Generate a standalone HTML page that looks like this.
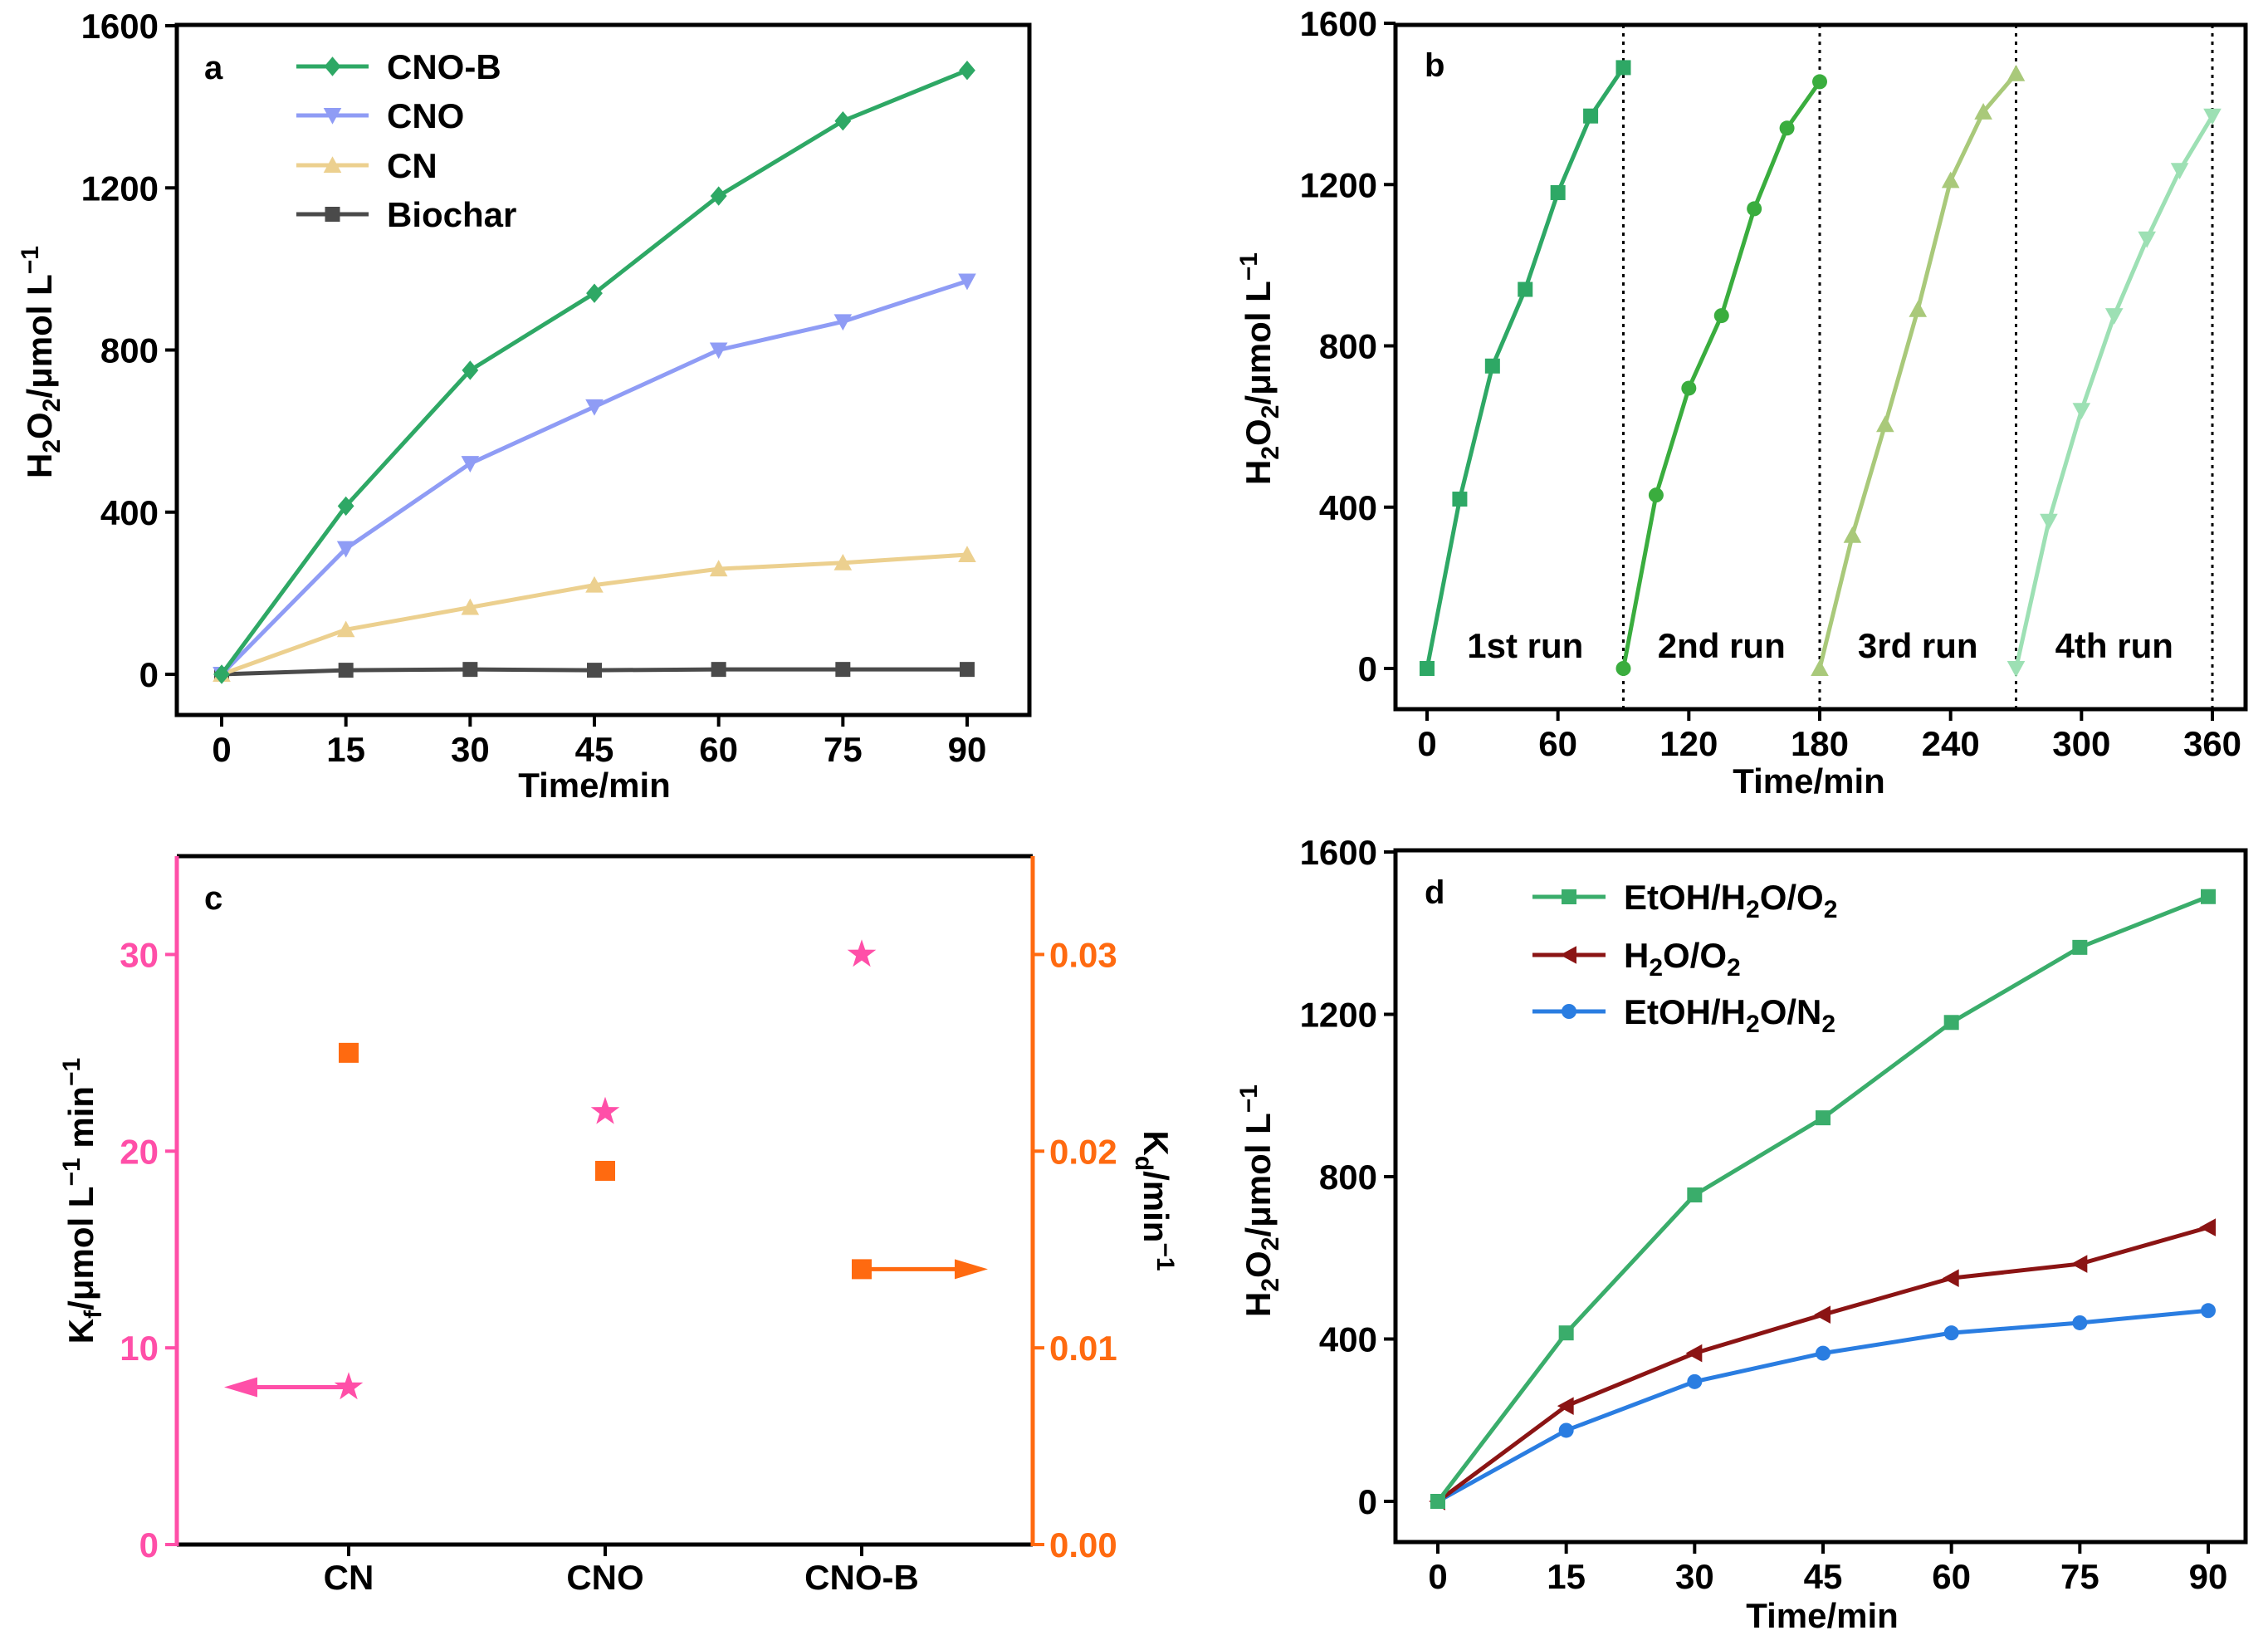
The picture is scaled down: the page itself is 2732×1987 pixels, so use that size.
<!DOCTYPE html>
<html><head><meta charset="utf-8"><style>
html,body{margin:0;padding:0;background:#fff}
svg text{font-family:"Liberation Sans",Arial,sans-serif;font-weight:bold}
</style></head><body>
<svg id="fig" width="2732" height="1982" viewBox="0 0 2732 1982" xmlns="http://www.w3.org/2000/svg"></svg>
<script>
// ---- data ----
const timeA = [0,15,30,45,60,75,90];
const cnoB = [0,415,750,940,1180,1365,1490];
const cno = [0,310,520,660,800,870,970];
const cn = [0,110,165,220,260,275,295];
const biochar = [0,10,12,10,12,12,12];
const yTicksH2O2 = [0,400,800,1200,1600];
const xTicksA = [0,15,30,45,60,75,90];

const run1 = [0,420,750,940,1180,1370,1490];
const run2 = [0,430,695,875,1140,1340,1455];
const run3 = [0,330,605,890,1210,1380,1475];
const run4 = [0,365,640,875,1065,1235,1370];
const runStarts = [0,90,180,270];
const runLabels = ["1st run","2nd run","3rd run","4th run"];
const xTicksB = [0,60,120,180,240,300,360];

const catsC = ["CN","CNO","CNO-B"];
const kf = [8,22,30];
const kd = [0.025,0.019,0.014];
const kfTicks = [0,10,20,30];
const kdTicks = ["0.00","0.01","0.02","0.03"];

const etohO2 = [0,415,755,945,1180,1365,1490];
const h2oO2 = [0,235,365,460,550,585,675];
const etohN2 = [0,175,295,365,415,440,470];

const NS="http://www.w3.org/2000/svg";
const svg=document.getElementById('fig');
function el(tag,attrs,parent,txt){const e=document.createElementNS(NS,tag);for(const k in attrs)e.setAttribute(k,attrs[k]);if(txt!==undefined)e.textContent=txt;(parent||svg).appendChild(e);return e;}
function lin(d0,d1,p0,p1){return v=>p0+(v-d0)*(p1-p0)/(d1-d0);}

function marker(g,type,x,y,c,s){
  s=s||9;
  if(type==='sq') return el('rect',{x:x-s,y:y-s,width:2*s,height:2*s,fill:c},g);
  if(type==='dia') return el('polygon',{points:`${x},${y-s*1.3} ${x+s*1.1},${y} ${x},${y+s*1.3} ${x-s*1.1},${y}`,fill:c},g);
  if(type==='tu') return el('polygon',{points:`${x},${y-s*1.2} ${x+s*1.2},${y+s} ${x-s*1.2},${y+s}`,fill:c},g);
  if(type==='td') return el('polygon',{points:`${x},${y+s*1.2} ${x+s*1.2},${y-s} ${x-s*1.2},${y-s}`,fill:c},g);
  if(type==='tl') return el('polygon',{points:`${x-s*1.2},${y} ${x+s},${y-s*1.2} ${x+s},${y+s*1.2}`,fill:c},g);
  if(type==='ci') return el('circle',{cx:x,cy:y,r:s,fill:c},g);
  if(type==='star'){let p=[];for(let i=0;i<10;i++){const r=i%2?s*0.55:s*1.4;const a=-Math.PI/2+i*Math.PI/5;p.push((x+r*Math.cos(a)).toFixed(1)+','+(y+r*Math.sin(a)).toFixed(1));}return el('polygon',{points:p.join(' '),fill:c},g);}
}
function frame(g,L,R,T,B){el('rect',{x:L,y:T,width:R-L,height:B-T,fill:'none',stroke:'#000','stroke-width':5},g);}
function yTitle(g,x,y,parts,name,rot){
  const t=el('text',{x:0,y:0,'font-size':42,'text-anchor':'middle',transform:`translate(${x},${y}) rotate(${rot||-90})`,},g);
  parts.forEach(p=>{const ts=el('tspan',p.sub?{'font-size':30,dy:10}:p.sup?{'font-size':30,dy:-16}:{dy:p.reset||0},t,p.t);});
  return t;
}
function series(g,xs,ys,sx,sy,color,mk,name){
  const sg=el('g',{},g);
  
  
  el('polyline',{points:xs.map((x,i)=>sx(x)+','+sy(ys[i])).join(' '),fill:'none',stroke:color,'stroke-width':5},sg);
  xs.forEach((x,i)=>marker(sg,mk,sx(x),sy(ys[i]),color));
}
function legendEntry(g,x1,x2,y,color,mk,label,name){
  const lg=el('g',{},g);
  
  
  el('line',{x1:x1,x2:x2,y1:y,y2:y,stroke:color,'stroke-width':5},lg);
  marker(lg,mk,(x1+x2)/2,y,color);
  const t=el('text',{x:x2+22,y:y+15,'font-size':42},lg);
  label.forEach(p=>el('tspan',p.sub?{'font-size':30,dy:10}:{dy:p.reset||0},t,p.t));
}
function xyAxes(g,L,R,T,B,sx,sy,xt,yt,xtitleX,xtitleY){
  frame(g,L,R,T,B);
  xt.forEach(v=>{el('line',{x1:sx(v),x2:sx(v),y1:B,y2:B+14,stroke:'#000','stroke-width':4},g);el('text',{x:sx(v),y:B+56,'font-size':42,'text-anchor':'middle'},g,v);});
  yt.forEach(v=>{el('line',{x1:L-14,x2:L,y1:sy(v),y2:sy(v),stroke:'#000','stroke-width':4},g);el('text',{x:L-22,y:sy(v)+15,'font-size':42,'text-anchor':'end'},g,v);});
  el('text',{x:xtitleX,y:xtitleY,'font-size':42,'text-anchor':'middle',},g,'Time/min');
}
const yParts=[{t:'H'},{t:'2',sub:1},{t:'O',reset:-10},{t:'2',sub:1},{t:'/μmol L',reset:-10},{t:'−1',sup:1}];

// ---- panel a ----
{
 const g=el('g',{});
 const L=213,R=1240,T=30,B=861;
 const sx=lin(0,90,267,1165), sy=lin(0,1600,812,31);
 xyAxes(g,L,R,T,B,sx,sy,xTicksA,yTicksH2O2,716,960);
 yTitle(g,62,436,yParts,'y-axis-title');
 el('text',{x:246,y:95,'font-size':40,},g,'a');
 series(g,timeA,biochar,sx,sy,'#4a4a4a','sq','series-biochar');
 series(g,timeA,cn,sx,sy,'#ecd08f','tu','series-cn');
 series(g,timeA,cno,sx,sy,'#8f9cf5','td','series-cno');
 series(g,timeA,cnoB,sx,sy,'#2ea865','dia','series-cno-b');
 legendEntry(g,357,444,80,'#2ea865','dia',[{t:'CNO-B'}],'legend-cno-b');
 legendEntry(g,357,444,139,'#8f9cf5','td',[{t:'CNO'}],'legend-cno');
 legendEntry(g,357,444,199,'#ecd08f','tu',[{t:'CN'}],'legend-cn');
 legendEntry(g,357,444,258,'#4a4a4a','sq',[{t:'Biochar'}],'legend-biochar');
}
// ---- panel b ----
{
 const g=el('g',{});
 const L=1681,R=2705,T=30,B=854;
 const sx=lin(0,360,1719,2665), sy=lin(0,1600,805,28);
 xyAxes(g,L,R,T,B,sx,sy,xTicksB,yTicksH2O2,2179,955);
 yTitle(g,1530,444,yParts,'y-axis-title');
 el('text',{x:1716,y:92,'font-size':40,},g,'b');
 runStarts.forEach(s=>{el('line',{x1:sx(s+90),x2:sx(s+90),y1:T,y2:B,stroke:'#000','stroke-width':3,'stroke-dasharray':'4,6'},g);});
 const runs=[run1,run2,run3,run4], cols=['#2ea865','#3aad3e','#a9c97a','#9de0b4'], mks=['sq','ci','tu','td'];
 runs.forEach((r,k)=>{series(g,timeA.map(t=>t+runStarts[k]),r,sx,sy,cols[k],mks[k],'series-run-'+(k+1));
   el('text',{x:sx(runStarts[k]+45),y:792,'font-size':42,'text-anchor':'middle'},g,runLabels[k]);});
}
// ---- panel c ----
{
 const g=el('g',{});
 const L=213,R=1244,T=1031,B=1860;
 const sy=lin(0,35,B,T), sy2=lin(0,0.035,B,T);
 const sx=i=>420+i*309;
 el('line',{x1:L,x2:R,y1:T,y2:T,stroke:'#000','stroke-width':5},g);
 el('line',{x1:L,x2:R,y1:B,y2:B,stroke:'#000','stroke-width':5},g);
 el('line',{x1:L,x2:L,y1:T,y2:B+2,stroke:'#ff4fa8','stroke-width':5},g);
 el('line',{x1:R,x2:R,y1:T,y2:B+2,stroke:'#ff6a10','stroke-width':5},g);
 kfTicks.forEach(v=>{el('line',{x1:L-14,x2:L,y1:sy(v),y2:sy(v),stroke:'#ff4fa8','stroke-width':4},g);el('text',{x:L-22,y:sy(v)+15,'font-size':42,'text-anchor':'end',fill:'#ff4fa8'},g,v);});
 kdTicks.forEach(v=>{const yy=sy2(parseFloat(v));el('line',{x1:R,x2:R+14,y1:yy,y2:yy,stroke:'#ff6a10','stroke-width':4},g);el('text',{x:R+20,y:yy+15,'font-size':42,fill:'#ff6a10'},g,v);});
 catsC.forEach((c,i)=>{el('line',{x1:sx(i),x2:sx(i),y1:B,y2:B+14,stroke:'#000','stroke-width':4},g);el('text',{x:sx(i),y:1914,'font-size':42,'text-anchor':'middle'},g,c);});
 el('text',{x:246,y:1095,'font-size':40,},g,'c');
 yTitle(g,112,1446,[{t:'K'},{t:'f',sub:1},{t:'/μmol L',reset:-10},{t:'−1',sup:1},{t:' min',reset:16},{t:'−1',sup:1}],'y-axis-title-left');
 yTitle(g,1378,1446,[{t:'K'},{t:'d',sub:1},{t:'/min',reset:-10},{t:'−1',sup:1}],'y-axis-title-right',90);
 kf.forEach((v,i)=>{const m=marker(g,'star',sx(i),sy(v),'#ff4fa8',13);});
 kd.forEach((v,i)=>{const m=marker(g,'sq',sx(i),sy2(v),'#ff6a10',12);});
 // arrows
 const ya=sy(kf[0]);
 el('line',{x1:sx(0),x2:300,y1:ya,y2:ya,stroke:'#ff4fa8','stroke-width':5,},g);
 el('polygon',{points:`270,${ya} 310,${ya-12} 310,${ya+12}`,fill:'#ff4fa8'},g);
 const yb=sy2(kd[2]);
 el('line',{x1:sx(2),x2:1160,y1:yb,y2:yb,stroke:'#ff6a10','stroke-width':5,},g);
 el('polygon',{points:`1190,${yb} 1150,${yb-12} 1150,${yb+12}`,fill:'#ff6a10'},g);
}
// ---- panel d ----
{
 const g=el('g',{});
 const L=1681,R=2705,T=1024,B=1857;
 const sx=lin(0,90,1732,2660), sy=lin(0,1600,1808,1026);
 xyAxes(g,L,R,T,B,sx,sy,xTicksA,yTicksH2O2,2195,1960);
 yTitle(g,1530,1446,yParts,'y-axis-title');
 el('text',{x:1716,y:1088,'font-size':40,},g,'d');
 series(g,timeA,etohN2,sx,sy,'#2a7de1','ci','series-etoh-h2o-n2');
 series(g,timeA,h2oO2,sx,sy,'#8b1414','tl','series-h2o-o2');
 series(g,timeA,etohO2,sx,sy,'#3aad6b','sq','series-etoh-h2o-o2');
 legendEntry(g,1846,1934,1080,'#3aad6b','sq',[{t:'EtOH/H'},{t:'2',sub:1},{t:'O/O',reset:-10},{t:'2',sub:1}],'legend-etoh-h2o-o2');
 legendEntry(g,1846,1934,1150,'#8b1414','tl',[{t:'H'},{t:'2',sub:1},{t:'O/O',reset:-10},{t:'2',sub:1}],'legend-h2o-o2');
 legendEntry(g,1846,1934,1218,'#2a7de1','ci',[{t:'EtOH/H'},{t:'2',sub:1},{t:'O/N',reset:-10},{t:'2',sub:1}],'legend-etoh-h2o-n2');
}
</script>
</body></html>
